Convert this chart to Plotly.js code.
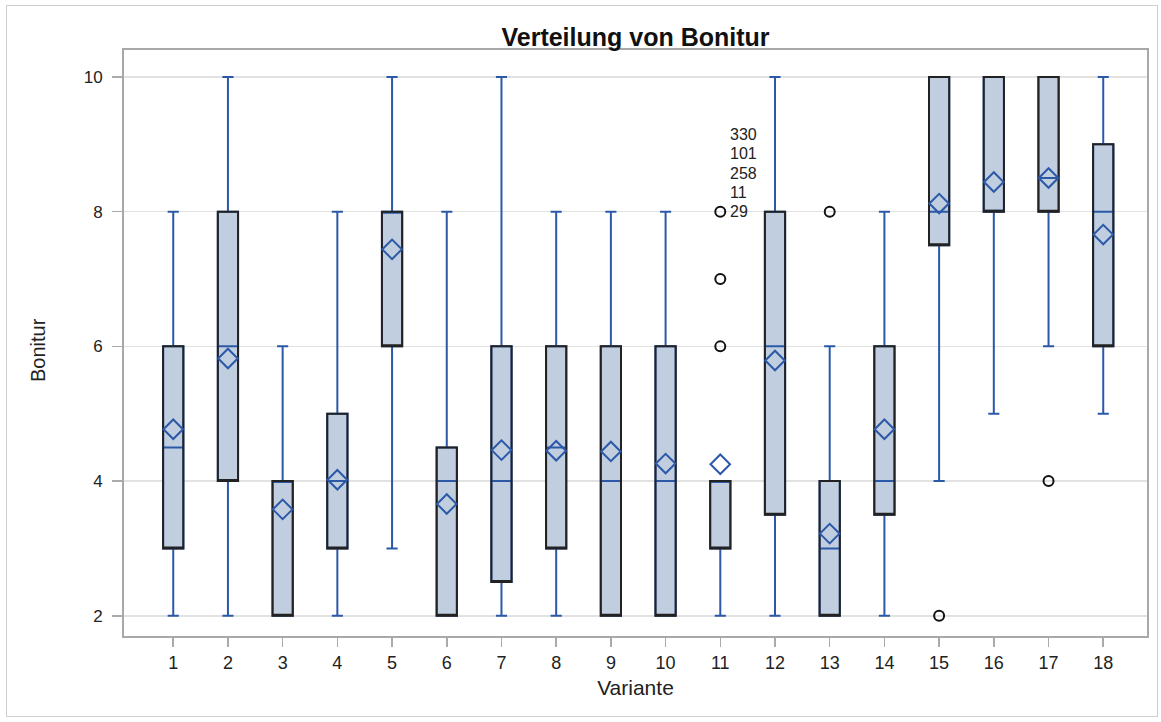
<!DOCTYPE html>
<html><head><meta charset="utf-8">
<script src="https://cdn.plot.ly/plotly-3.0.1.min.js"></script>
<style>
html,body{margin:0;padding:0;background:#fff;}
#chart{width:1161px;height:722px;}
#frame{position:absolute;left:6px;top:5px;width:1150px;height:710px;border:1px solid #cfcfcf;pointer-events:none;}
</style>
</head><body>
<div id="chart"></div><div id="frame"></div>
<script>
const variante = [1,2,3,4,5,6,7,8,9,10,11,12,13,14,15,16,17,18];
const q1 =            [3,  4, 2, 3, 6, 2,  2.5, 3,   2, 2, 3, 3.5, 2, 3.5, 7.5, 8, 8,   6];
const median =        [4.5,6, 4, 4, 8, 4,  4,   4.5, 4, 4, 4, 6,   3, 4,   8,   8, 8.5, 8];
const q3 =            [6,  8, 4, 5, 8, 4.5,6,   6,   6, 6, 4, 8,   4, 6,   10,  10,10,  9];
const lowerWhisker =  [2,  2, 2, 2, 3, 2,  2,   2,   2, 2, 2, 2,   2, 2,   4,   5, 6,   5];
const upperWhisker =  [8, 10, 6, 8,10, 8, 10,   8,   8, 8, 4, 10,  6, 8,   10, 10,10,  10];
const mean = [4.77,5.82,3.58,4.02,7.44,3.66,4.46,4.45,4.44,4.26,4.25,5.79,3.22,4.77,8.12,8.44,8.5,7.66];
const outlierX = [11,11,11,13,15,17];
const outlierY = [6,7,8,8,2,4];
const labelVariante = 11;
const labelValue = 8;
const outlierLabels = ['29','11','258','101','330'];
const yTicks = [2,4,6,8,10];

const BLUE = '#2b59a8';
const FILL = '#c0cee0';
const DARK = '#222222';
const FONT = 'Liberation Sans, Arial, sans-serif';

const traces = [
  {
    type:'box', x: variante, q1: q1, median: median, q3: q3,
    lowerfence: lowerWhisker, upperfence: upperWhisker,
    boxpoints:false, width:0.37, whiskerwidth:0.55,
    fillcolor: FILL, line:{color: BLUE, width:2},
    hoverinfo:'skip', showlegend:false
  },
  {
    type:'box', x: variante, q1: q1, median: q1, q3: q3,
    lowerfence: q1, upperfence: q3,
    boxpoints:false, width:0.37, whiskerwidth:0,
    fillcolor:'rgba(0,0,0,0)', line:{color: DARK, width:2},
    hoverinfo:'skip', showlegend:false
  },
  {
    type:'scatter', mode:'markers', x: variante, y: mean,
    marker:{symbol:'diamond-open', size:15, color: BLUE, line:{width:2, color: BLUE}},
    showlegend:false
  },
  {
    type:'scatter', mode:'markers', x: outlierX, y: outlierY,
    marker:{symbol:'circle-open', size:10, color:'#111', line:{width:2, color:'#111'}},
    showlegend:false
  }
];

const annotations = outlierLabels.map((t,i)=>({
  x: labelVariante, y: labelValue, xref:'x', yref:'y', text: t, showarrow:false,
  xanchor:'left', yanchor:'middle', xshift: 8, yshift: i*19.3,
  font:{family: FONT, size:16, color:'#222'}
}));
annotations.push({
  text:'Bonitur', xref:'paper', yref:'paper', x:0, y:0.5, xanchor:'center', yanchor:'middle',
  xshift:-86, yshift:-7, textangle:-90, showarrow:false,
  font:{family: FONT, size:20, color:'#222'}
});

const layout = {
  width:1161, height:722,
  margin:{l:124, r:14, t:50, b:86},
  paper_bgcolor:'#fff', plot_bgcolor:'#fff',
  font:{family: FONT, color:'#222'},
  boxmode:'overlay',
  title:{text:'<b>Verteilung von Bonitur</b>', x:0.5, xref:'paper', y: 1 - 37/722, yanchor:'middle',
         font:{family: FONT, size:25, color:'#111'}},
  xaxis:{
    range:[0.1, 18.8], tickmode:'array', tickvals: variante, ticktext: variante.map(String),
    ticks:'outside', ticklen:9, tickcolor:'#aaa', tickwidth:1.5,
    showgrid:false, zeroline:false, showline:true, mirror:true, linecolor:'#a8a8a8', linewidth:2,
    tickfont:{size:18, color:'#222'},
    title:{text:'Variante', font:{size:21, color:'#222'}, standoff:9}
  },
  yaxis:{
    range:[1.7, 10.4], tickmode:'array', tickvals: yTicks, ticktext: yTicks.map(String),
    ticks:'outside', ticklen:10, tickcolor:'#aaa', tickwidth:1.5,
    showgrid:true, gridcolor:'#e2e2e2', gridwidth:1.5,
    zeroline:false, showline:true, mirror:true, linecolor:'#a8a8a8', linewidth:2,
    tickfont:{size:17, color:'#222'}, ticklabelstandoff:6
  },
  annotations: annotations
};

Plotly.newPlot('chart', traces, layout, {displayModeBar:false, staticPlot:true});
</script>
</body></html>
